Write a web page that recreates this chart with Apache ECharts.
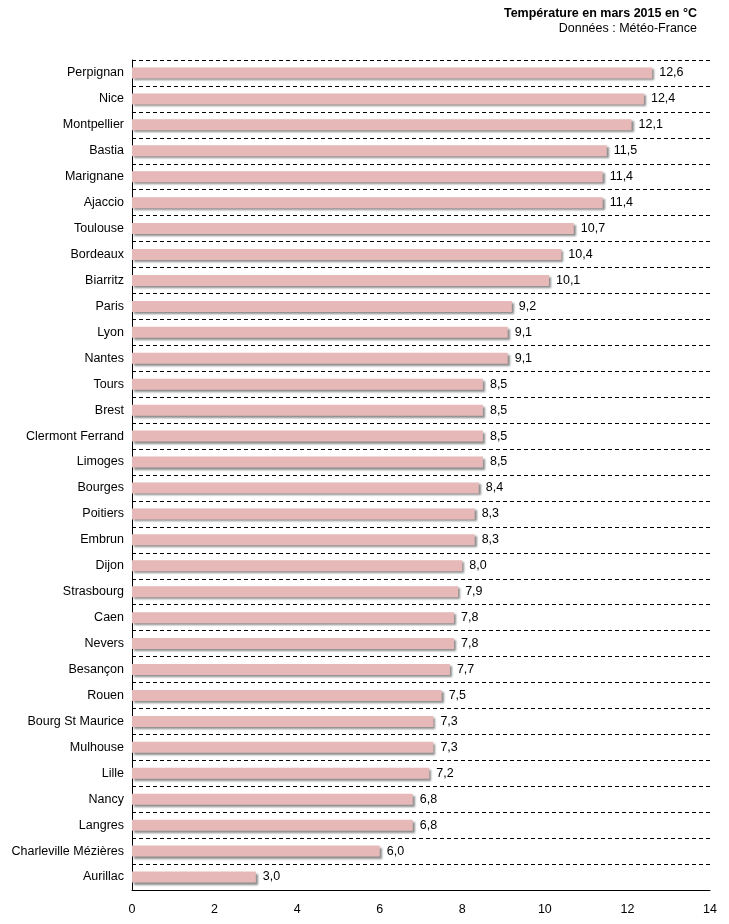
<!DOCTYPE html>
<html>
<head>
<meta charset="utf-8">
<script src="https://cdn.jsdelivr.net/npm/echarts@6/dist/echarts.min.js"></script>
<style>
html,body{margin:0;padding:0;background:#fff;}
#c{width:729px;height:924px;}
</style>
</head>
<body>
<div id="c"></div>
<script>
var cities = ["Perpignan","Nice","Montpellier","Bastia","Marignane","Ajaccio","Toulouse","Bordeaux","Biarritz","Paris","Lyon","Nantes","Tours","Brest","Clermont Ferrand","Limoges","Bourges","Poitiers","Embrun","Dijon","Strasbourg","Caen","Nevers","Besançon","Rouen","Bourg St Maurice","Mulhouse","Lille","Nancy","Langres","Charleville Mézières","Aurillac"];
var temps = [12.6,12.4,12.1,11.5,11.4,11.4,10.7,10.4,10.1,9.2,9.1,9.1,8.5,8.5,8.5,8.5,8.4,8.3,8.3,8.0,7.9,7.8,7.8,7.7,7.5,7.3,7.3,7.2,6.8,6.8,6.0,3.0];
var xTicks = [0,2,4,6,8,10,12,14];
var titleText = "Température en mars 2015 en °C";
var subText = "Données : Météo-France";

var font = "Liberation Sans, Arial, sans-serif";
var chart = echarts.init(document.getElementById('c'), null, {renderer:'canvas'});
chart.setOption({
  animation:false,
  backgroundColor:'#ffffff',
  graphic:[
    {type:'text', right:32, top:7, style:{text:titleText, fontFamily:font, fontSize:12.5, fontWeight:'bold', fill:'#000'}},
    {type:'text', right:32, top:22, style:{text:subText, fontFamily:font, fontSize:12.5, fill:'#000'}}
  ],
  grid:{left:132,right:19,top:60,bottom:34,containLabel:false},
  xAxis:{
    type:'value', min:xTicks[0], max:xTicks[xTicks.length-1], interval:2,
    axisLine:{show:true,lineStyle:{color:'#000',width:1}},
    axisTick:{show:false},
    splitLine:{show:false},
    axisLabel:{fontFamily:font,fontSize:12.5,color:'#000',margin:13}
  },
  yAxis:{
    type:'category', data:cities, inverse:true,
    axisLine:{show:true,lineStyle:{color:'#000',width:1}},
    axisTick:{show:false},
    splitLine:{show:true,lineStyle:{color:'#000',type:[4,3],width:1}},
    axisLabel:{fontFamily:font,fontSize:12.5,color:'#000',margin:8}
  },
  series:[{
    type:'bar', data:temps, barWidth:11,
    itemStyle:{color:'#E6B9B8',shadowColor:'rgba(0,0,0,0.45)',shadowBlur:2,shadowOffsetX:2,shadowOffsetY:2},
    label:{show:true,position:'right',distance:7,fontFamily:font,fontSize:12.5,color:'#000',
      formatter:function(p){return p.value.toFixed(1).replace('.',',');}}
  }]
});
</script>
</body>
</html>
